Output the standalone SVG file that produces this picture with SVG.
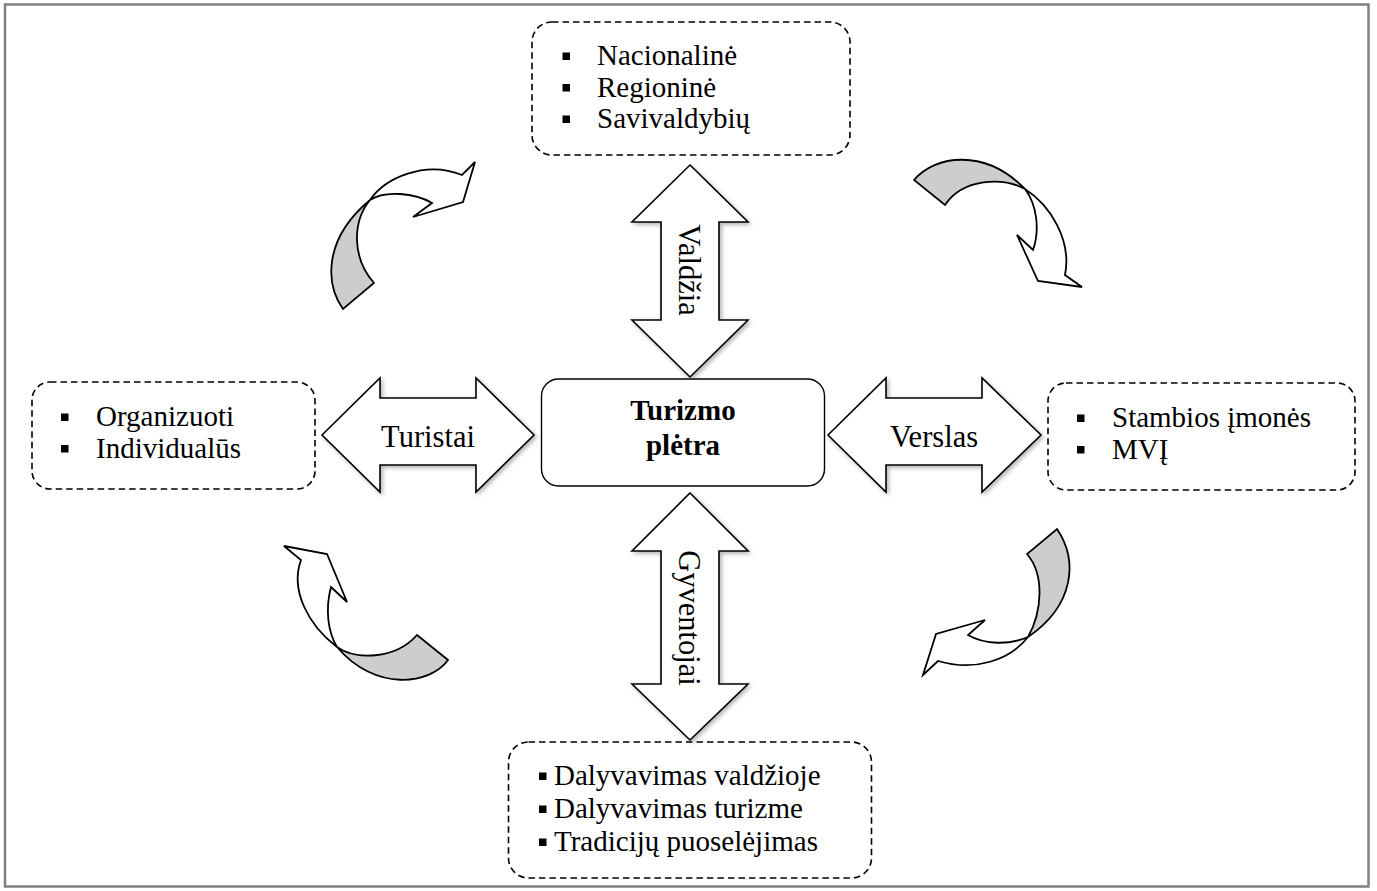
<svg xmlns="http://www.w3.org/2000/svg" width="1377" height="891" viewBox="0 0 1377 891">
<style>
text{font-family:"Liberation Serif","Times New Roman",serif;fill:#000}
.lst{font-size:29px}
.lbl{font-size:30.5px}
.ctr{font-size:29px;font-weight:bold}
.dash{fill:none;stroke:#000;stroke-width:1.6;stroke-dasharray:6.5 4}
.dbl{fill:#fff;stroke:#000;stroke-width:1.6;stroke-linejoin:miter;filter:url(#sh)}
.cw{fill:#fff;stroke:#000;stroke-width:1.8;stroke-linejoin:miter}
.cg{fill:#cdcdcd;stroke:#000;stroke-width:1.8;stroke-linejoin:miter}
.bul{fill:#000}
</style>
<defs>
<filter id="sh" x="-20%" y="-20%" width="140%" height="140%">
<feDropShadow dx="2" dy="2" stdDeviation="2" flood-color="#000" flood-opacity="0.3"/>
</filter>
</defs>
<rect x="0" y="0" width="1377" height="891" fill="#fff"/>
<rect x="5" y="4.5" width="1363.5" height="882" fill="none" stroke="#808080" stroke-width="2.5"/>

<g id="connectors">
<g id="arrow-valdzia">
<path class="dbl" d="M690,165 L748,222 L719,222 L719,320 L748,320 L690,377 L632,320 L661,320 L661,222 L632,222 Z"/>
<text class="lbl" text-anchor="middle" transform="translate(679,270) rotate(90)">Valdžia</text>
</g>
<g id="arrow-gyventojai">
<path class="dbl" d="M690,493 L748,551 L719,551 L719,684 L748,684 L690,740 L632,684 L661,684 L661,551 L632,551 Z"/>
<text class="lbl" text-anchor="middle" transform="translate(679,618) rotate(90)">Gyventojai</text>
</g>
<g id="arrow-turistai">
<path class="dbl" d="M322,435 L380,378 L380,398 L476,398 L476,378 L534,435 L476,492 L476,465 L380,465 L380,492 Z"/>
<text class="lbl" text-anchor="middle" x="428" y="447">Turistai</text>
</g>
<g id="arrow-verslas">
<path class="dbl" d="M828,435 L886,378 L886,398 L982,398 L982,378 L1041,435 L982,492 L982,465 L886,465 L886,492 Z"/>
<text class="lbl" text-anchor="middle" x="934" y="447">Verslas</text>
</g>
<g id="curve-top-left">
<path class="cg" d="M343,309 C326,285 322,240 370,200 C352,222 352,258 374,283 Z"/>
<path class="cw" d="M370,200 C385,178 425,160 462,175 L475,162 L463,202 L413,217 L432,203 C415,193 385,190 370,200 Z"/>
</g>
<g id="curve-top-right">
<path class="cg" d="M914,180 C935,155 985,148 1025,189 C1003,177 963,178 945,205 Z"/>
<path class="cw" d="M1025,189 C1050,205 1072,240 1065,275 L1082,287 L1038,281 L1017,235 L1033,250 C1040,230 1037,205 1025,189 Z"/>
</g>
<g id="curve-bottom-left">
<path class="cw" d="M337,647 C308,625 290,590 301,560 L284,546 L327,554 L347,602 L331,587 C325,610 328,632 337,647 Z"/>
<path class="cg" d="M337,647 C355,660 395,660 417,635 L448,660 C430,685 375,692 337,647 Z"/>
</g>
<g id="curve-bottom-right">
<path class="cg" d="M1057,529 C1078,560 1075,605 1028,637 C1042,612 1045,575 1027,554 Z"/>
<path class="cw" d="M1028,637 C1010,660 975,672 938,661 L923,675 L936,634 L985,620 L968,635 C985,645 1010,645 1028,637 Z"/>
</g>
</g>

<g id="node-center">
<rect x="541.5" y="379" width="283" height="107" rx="17" fill="#fff" stroke="#000" stroke-width="1.4"/>
<text class="ctr" text-anchor="middle" x="683" y="420">Turizmo</text>
<text class="ctr" text-anchor="middle" x="683" y="455">plėtra</text>
</g>

<g id="node-valdzia">
<rect class="dash" x="532" y="22" width="318" height="133" rx="20"/>
<rect class="bul" x="562.5" y="52.5" width="7.5" height="7.5"/>
<rect class="bul" x="562.5" y="84" width="7.5" height="7.5"/>
<rect class="bul" x="562.5" y="115.5" width="7.5" height="7.5"/>
<text class="lst" x="597" y="65">Nacionalinė</text>
<text class="lst" x="597" y="96.5">Regioninė</text>
<text class="lst" x="597" y="128">Savivaldybių</text>
</g>

<g id="node-turistai">
<rect class="dash" x="32" y="382" width="283" height="107" rx="18"/>
<rect class="bul" x="61" y="413.5" width="7.5" height="7.5"/>
<rect class="bul" x="61" y="445" width="7.5" height="7.5"/>
<text class="lst" x="96" y="426">Organizuoti</text>
<text class="lst" x="96" y="457.5">Individualūs</text>
</g>

<g id="node-verslas">
<rect class="dash" x="1048" y="383" width="307" height="107" rx="18"/>
<rect class="bul" x="1077" y="414.5" width="7.5" height="7.5"/>
<rect class="bul" x="1077" y="446" width="7.5" height="7.5"/>
<text class="lst" x="1112" y="427">Stambios įmonės</text>
<text class="lst" x="1112" y="458.5">MVĮ</text>
</g>

<g id="node-gyventojai">
<rect class="dash" x="508.5" y="742" width="363" height="136" rx="20"/>
<rect class="bul" x="539" y="772.5" width="7.5" height="7.5"/>
<rect class="bul" x="539" y="805.5" width="7.5" height="7.5"/>
<rect class="bul" x="539" y="838.5" width="7.5" height="7.5"/>
<text class="lst" x="554" y="785">Dalyvavimas valdžioje</text>
<text class="lst" x="554" y="818">Dalyvavimas turizme</text>
<text class="lst" x="554" y="851">Tradicijų puoselėjimas</text>
</g>
</svg>
